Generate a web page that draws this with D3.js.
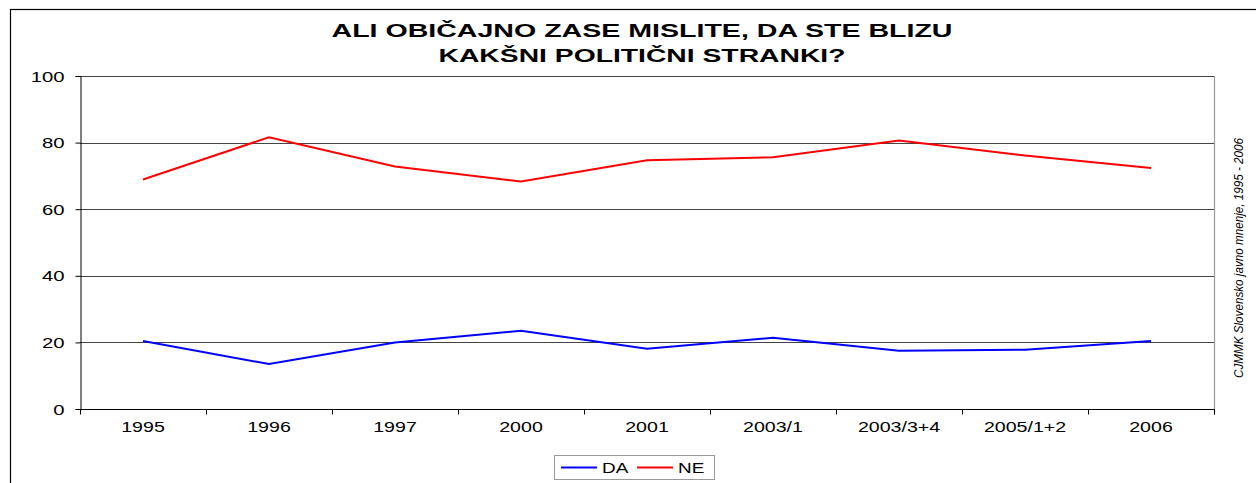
<!DOCTYPE html>
<html>
<head>
<meta charset="utf-8">
<script src="https://cdn.jsdelivr.net/npm/d3@7"></script>
<style>
  body { margin: 0; background: #fff; }
  svg { display: block; font-family: Arial, "Liberation Sans", sans-serif; }
</style>
</head>
<body>
<svg id="chart" width="1256" height="483"></svg>
<script>
// data
var categories = ['1995', '1996', '1997', '2000', '2001', '2003/1', '2003/3+4', '2005/1+2', '2006'];
var daValues = [20.4, 13.5, 20.0, 23.5, 18.1, 21.4, 17.5, 17.8, 20.4];
var neValues = [68.9, 81.6, 72.8, 68.3, 74.7, 75.6, 80.6, 76.1, 72.4];
var yTicks = [0, 20, 40, 60, 80, 100];
var titleLines = ['ALI OBIČAJNO ZASE MISLITE, DA STE BLIZU', 'KAKŠNI POLITIČNI STRANKI?'];
var sourceText = 'CJMMK Slovensko javno mnenje, 1995 - 2006';

var series = [
  {name: 'DA', values: daValues, color: '#0000ff'},
  {name: 'NE', values: neValues, color: '#ff0000'}
];

// the original picture has its text stretched sideways
var stretch = 1.45;

var svg = d3.select('#chart');

// outer frame
svg.append('rect')
  .attr('x', 10.5).attr('y', 9.5)
  .attr('width', 1260).attr('height', 490)
  .attr('fill', 'none')
  .attr('stroke', '#000')
  .attr('stroke-width', 1.2);

var plotLeft = 80, plotRight = 1214, plotTop = 76, plotBottom = 409;

var x = d3.scaleBand().domain(categories).range([plotLeft, plotRight]);
var y = d3.scaleLinear().domain([0, 100]).range([plotBottom, plotTop]);

// title
var titleWidths = [621, 407];
svg.append('g')
  .selectAll('text')
    .data(titleLines)
  .enter()
  .append('text')
    .attr('x', 642 - 0)
    .attr('y', (d, i) => 37 + i * 25)
    .attr('text-anchor', 'middle')
    .attr('textLength', (d, i) => titleWidths[i])
    .attr('lengthAdjust', 'spacingAndGlyphs')
    .style('font-size', '18px')
    .style('font-weight', 'bold')
    .text(d => d);

// gridlines
svg.append('g')
  .selectAll('line')
    .data(yTicks.filter(d => d > 0))
  .enter()
  .append('line')
    .attr('x1', plotLeft).attr('x2', plotRight)
    .attr('y1', d => Math.round(y(d)) + 0.5)
    .attr('y2', d => Math.round(y(d)) + 0.5)
    .attr('stroke', '#444')
    .attr('stroke-width', 1);

// right plot border
svg.append('line')
  .attr('x1', plotRight + 0.5).attr('x2', plotRight + 0.5)
  .attr('y1', plotTop).attr('y2', plotBottom + 6)
  .attr('stroke', '#999')
  .attr('stroke-width', 1.2);

// y axis
var yAxis = svg.append('g')
  .attr('transform', 'translate(' + (plotLeft + 0.5) + ',0)')
  .call(d3.axisLeft(y).tickValues(yTicks).tickSize(5).tickFormat(''));
yAxis.select('.domain').attr('stroke', '#000');
yAxis.selectAll('.tick').append('text')
  .attr('transform', 'translate(-16,5) scale(' + stretch + ',1)')
  .attr('text-anchor', 'end')
  .attr('fill', '#000')
  .style('font-size', '14px')
  .text(d => d);

// x axis with ticks on the category boundaries
var xAxisG = svg.append('g')
  .attr('transform', 'translate(0,' + (plotBottom + 0.5) + ')');
xAxisG.append('line')
  .attr('x1', plotLeft).attr('x2', plotRight + 1)
  .attr('stroke', '#000');
xAxisG.selectAll('line.tick')
  .data(categories.concat(['end']))
  .enter()
  .append('line')
    .attr('class', 'tick')
    .attr('x1', (d, i) => Math.round(plotLeft + i * x.bandwidth()) + 0.5)
    .attr('x2', (d, i) => Math.round(plotLeft + i * x.bandwidth()) + 0.5)
    .attr('y1', 0).attr('y2', 5)
    .attr('stroke', '#000');
xAxisG.selectAll('text')
  .data(categories)
  .enter()
  .append('text')
    .attr('transform', d => 'translate(' + (x(d) + x.bandwidth() / 2) + ',22) scale(1.4,1)')
    .attr('text-anchor', 'middle')
    .style('font-size', '14px')
    .text(d => d);

// lines
var line = d3.line()
  .x((d, i) => x(categories[i]) + x.bandwidth() / 2)
  .y(d => y(d));

svg.append('g')
  .selectAll('path')
    .data(series)
  .enter()
  .append('path')
    .attr('d', d => line(d.values))
    .attr('fill', 'none')
    .attr('stroke', d => d.color)
    .attr('stroke-width', 2);

// source note on the right
svg.append('text')
  .attr('transform', 'translate(1243,258) rotate(-90) scale(1,1.3)')
  .attr('text-anchor', 'middle')
  .attr('textLength', 240)
  .attr('lengthAdjust', 'spacingAndGlyphs')
  .style('font-size', '10px')
  .style('font-style', 'italic')
  .text(sourceText);

// legend
var legend = svg.append('g').attr('transform', 'translate(554,455)');
legend.append('rect')
  .attr('x', 0.5).attr('y', 0.5)
  .attr('width', 160).attr('height', 24)
  .attr('fill', '#fff')
  .attr('stroke', '#999');

var items = legend.selectAll('g.item')
  .data(series)
  .enter()
  .append('g')
    .attr('class', 'item')
    .attr('transform', (d, i) => 'translate(' + (7 + i * 76) + ',12.5)');
items.append('line')
  .attr('x1', 0).attr('x2', 36)
  .attr('stroke', d => d.color)
  .attr('stroke-width', 2);
items.append('text')
  .attr('transform', 'translate(41,5) scale(1.35,1)')
  .style('font-size', '14px')
  .text(d => d.name);
</script>
</body>
</html>
